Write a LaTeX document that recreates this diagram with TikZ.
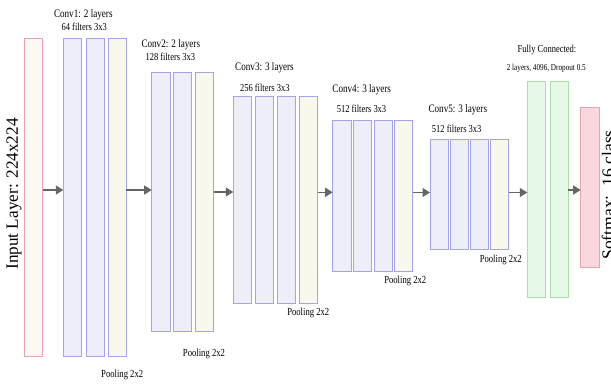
\documentclass[tikz,border=0pt]{standalone}
\usepackage{fontspec}
\setmainfont{Liberation Serif}
\newfontfamily\condfont[FakeStretch=0.8]{Liberation Serif}
\usetikzlibrary{arrows.meta}
\definecolor{lavfill}{HTML}{EEEEF8}
\definecolor{lavdraw}{HTML}{A4A4EC}
\definecolor{ivfill}{HTML}{F8F8EC}
\definecolor{infill}{HTML}{FAFAF2}
\definecolor{indraw}{HTML}{EAA2B4}
\definecolor{fcfill}{HTML}{E6F8E6}
\definecolor{fcdraw}{HTML}{A8E0A8}
\definecolor{smfill}{HTML}{F8D8DC}
\definecolor{smdraw}{HTML}{E6A6B0}
\definecolor{arrgray}{HTML}{666666}
\tikzset{
  layer/.style={draw, line width=0.9pt, anchor=north west, inner sep=0pt, outer sep=0pt, minimum width=18.3pt},
  conv/.style={layer, draw=lavdraw, fill=lavfill},
  pool/.style={layer, draw=lavdraw, fill=ivfill},
  inlayer/.style={layer, draw=indraw, fill=infill},
  fclayer/.style={layer, draw=fcdraw, fill=fcfill},
  smlayer/.style={layer, draw=smdraw, fill=smfill},
  arr/.style={draw=arrgray, line width=1.3pt, -{Triangle[length=7.5pt,width=9pt]}, shorten <=0pt, shorten >=0pt},
  title/.style={inner sep=0pt, font=\condfont\fontsize{11.4}{12}\selectfont},
  sub/.style={inner sep=0pt, font=\condfont\fontsize{10.6}{12}\selectfont},
  poolt/.style={inner sep=0pt, font=\condfont\fontsize{10.8}{12}\selectfont},
  fcsub/.style={inner sep=0pt, font=\condfont\fontsize{9}{10}\selectfont},
  big/.style={inner sep=0pt, rotate=90, font=\fontsize{17.2}{20}\selectfont}
}
\begin{document}
\begin{tikzpicture}[x=1pt,y=-1pt]
\useasboundingbox[fill=white] (0,0) rectangle (611,388);
% input
\node[inlayer, minimum height=318.4pt] (in) at (24.3,38.3) {};
\node[big] (intxt) at (14,194) {Input Layer: 224x224};
% conv1
\node[conv, minimum height=318.4pt] (c1a) at (63.3,38.3) {};
\node[conv, minimum height=318.4pt] (c1b) at (86,38.3) {};
\node[pool, minimum height=318.4pt] (c1p) at (108,38.3) {};
\node[title] (t1) at (83.3,15) {Conv1: 2 layers};
\node[sub] (s1) at (84.2,27) {64 filters 3x3};
\node[poolt] (p1) at (122.2,374.5) {Pooling 2x2};
% conv2
\node[conv, minimum height=259pt] (c2a) at (151.7,72.7) {};
\node[conv, minimum height=259pt] (c2b) at (173.3,72.7) {};
\node[pool, minimum height=259pt] (c2p) at (195.3,72.7) {};
\node[title] (t2) at (170.8,45) {Conv2: 2 layers};
\node[sub] (s2) at (170.3,57) {128 filters 3x3};
\node[poolt] (p2) at (204,353.5) {Pooling 2x2};
% conv3
\node[conv, minimum height=206.6pt] (c3a) at (233.3,96.7) {};
\node[conv, minimum height=206.6pt] (c3b) at (255.5,96.7) {};
\node[conv, minimum height=206.6pt] (c3c) at (277.3,96.7) {};
\node[pool, minimum height=206.6pt] (c3p) at (299.2,96.7) {};
\node[title] (t3) at (264.5,68) {Conv3: 3 layers};
\node[sub] (s3) at (264.8,87.5) {256 filters 3x3};
\node[poolt] (p3) at (308.3,313) {Pooling 2x2};
% conv4
\node[conv, minimum height=151.7pt] (c4a) at (332.7,120) {};
\node[conv, minimum height=151.7pt] (c4b) at (353.6,120) {};
\node[conv, minimum height=151.7pt] (c4c) at (374.3,120) {};
\node[pool, minimum height=151.7pt] (c4p) at (394.6,120) {};
\node[title] (t4) at (361.7,89.3) {Conv4: 3 layers};
\node[sub] (s4) at (361.5,108.5) {512 filters 3x3};
\node[poolt] (p4) at (405.3,281) {Pooling 2x2};
% conv5
\node[conv, minimum height=110pt] (c5a) at (430,139) {};
\node[conv, minimum height=110pt] (c5b) at (450.5,139) {};
\node[conv, minimum height=110pt] (c5c) at (470.6,139) {};
\node[pool, minimum height=110pt] (c5p) at (490.2,139) {};
\node[title] (t5) at (457.8,110) {Conv5: 3 layers};
\node[sub] (s5) at (456.7,129) {512 filters 3x3};
\node[poolt] (p5) at (500.8,259.5) {Pooling 2x2};
% fully connected
\node[fclayer, minimum height=216.7pt] (fa) at (527.3,81) {};
\node[fclayer, minimum height=216.7pt] (fb) at (550,81) {};
\node[title, font=\condfont\fontsize{10.6}{12}\selectfont] (tf) at (547,50) {Fully Connected:};
\node[fcsub] (sf) at (546.3,68.5) {2 layers, 4096, Dropout 0.5};
% softmax
\node[smlayer, minimum height=160pt] (sm) at (580.7,107.7) {};
\node[big, anchor=north, font=\fontsize{17.6}{20}\selectfont] (smtxt) at (601.5,195) {Softmax:\ \ 16 class};
% arrows
\draw[arr] (in.east |- 0,190) -- (c1a.west |- 0,190);
\draw[arr] (c1p.east |- 0,190) -- (c2a.west |- 0,190);
\draw[arr] (c2p.east |- 0,192) -- (c3a.west |- 0,192);
\draw[arr] (c3p.east |- 0,192.3) -- (c4a.west |- 0,192.3);
\draw[arr] (c4p.east |- 0,192.5) -- (c5a.west |- 0,192.5);
\draw[arr] (c5p.east |- 0,192.5) -- (fa.west |- 0,192.5);
\draw[arr] (fb.east |- 0,190) -- (sm.west |- 0,190);
\end{tikzpicture}
\end{document}
